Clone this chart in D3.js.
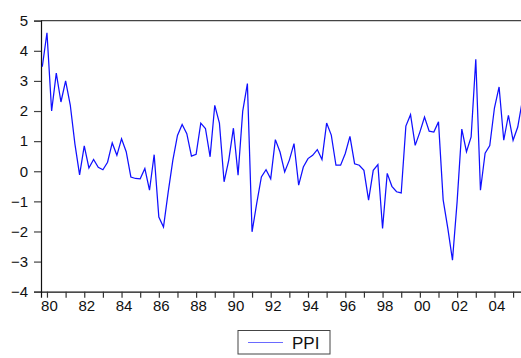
<!DOCTYPE html>
<html>
<head>
<meta charset="utf-8">
<script src="https://cdn.jsdelivr.net/npm/d3@7"></script>
<style>
  html, body { margin: 0; padding: 0; background: #fff; }
  svg { display: block; }
  text { font-family: "Liberation Sans", Arial, sans-serif; }
</style>
</head>
<body>
<svg id="chart" width="521" height="358"></svg>
<script>
// Quarterly PPI series, first observation 1979Q4
const startYear = 1979;
const startQuarter = 4;
const seriesName = "PPI";
const ppi = [
  3.47, 4.6, 2.0, 3.26, 2.3, 3.0, 2.2, 0.9, -0.12, 0.84,
  0.11, 0.39, 0.13, 0.05, 0.3, 0.94, 0.53, 1.08, 0.65, -0.19,
  -0.24, -0.25, 0.09, -0.63, 0.55, -1.52, -1.85, -0.7, 0.36, 1.19,
  1.55, 1.25, 0.5, 0.56, 1.6, 1.42, 0.48, 2.19, 1.6, -0.35,
  0.37, 1.43, -0.13, 2.0, 2.91, -2.01, -1.07, -0.19, 0.05, -0.25,
  1.05, 0.64, -0.02, 0.37, 0.92, -0.46, 0.14, 0.42, 0.53, 0.72,
  0.39, 1.6, 1.2, 0.2, 0.2, 0.59, 1.16, 0.25, 0.2, 0.03,
  -0.96, 0.03, 0.22, -1.9, -0.07, -0.5, -0.68, -0.72, 1.5, 1.88,
  0.86, 1.3, 1.8, 1.33, 1.3, 1.64, -0.95, -1.9, -2.95, -1.0,
  1.4, 0.65, 1.14, 3.72, -0.63, 0.6, 0.85, 2.1, 2.8, 1.03,
  1.86, 1.03, 1.47, 2.35
];
const yTicks = [5, 4, 3, 2, 1, 0, -1, -2, -3, -4];
const xTickYears = d3.range(1980, 2006);
const xTickLabels = ["80", "82", "84", "86", "88", "90", "92", "94", "96", "98", "00", "02", "04"];

const svg = d3.select("#chart");
const plot = { left: 41, top: 20.7, right: 522.4, bottom: 291.7 };

// time position of each observation (year + fraction of year)
const t0 = startYear + (startQuarter - 1) / 4;
const data = ppi.map((v, i) => ({ t: t0 + i / 4, v }));

const x = d3.scaleLinear()
  .domain([1979.68, 2005.5])
  .range([plot.left, plot.right]);
const y = d3.scaleLinear()
  .domain([-4, 5])
  .range([plot.bottom, plot.top]);

// top frame line
svg.append("line")
  .attr("x1", plot.left).attr("x2", plot.right)
  .attr("y1", plot.top).attr("y2", plot.top)
  .attr("stroke", "#444").attr("stroke-width", 1.2);

// y axis
const yAxis = svg.append("g")
  .attr("transform", `translate(${plot.left},0)`)
  .call(d3.axisLeft(y).tickValues(yTicks).tickSize(7).tickPadding(6).tickFormat(d3.format("d")));
yAxis.select(".domain").attr("stroke", "#111").attr("stroke-width", 1.2);
yAxis.selectAll(".tick line").attr("stroke", "#444").attr("stroke-width", 1.2);
yAxis.selectAll("text").attr("font-size", 15).attr("fill", "#111");

// x axis: a tick each year, labels on even years
const labelFor = {};
xTickLabels.forEach(s => {
  const yr = +s < 50 ? 2000 + +s : 1900 + +s;
  labelFor[yr] = s;
});
const xAxis = svg.append("g")
  .attr("transform", `translate(0,${plot.bottom})`)
  .call(d3.axisBottom(x).tickValues(xTickYears).tickSize(6).tickPadding(3)
    .tickFormat(d => labelFor[d] || ""));
xAxis.select(".domain").attr("stroke", "#111").attr("stroke-width", 1.2);
xAxis.selectAll(".tick line").attr("stroke", "#333").attr("stroke-width", 1.2);
xAxis.selectAll("text").attr("font-size", 15).attr("fill", "#111").attr("dx", "2");

// series line
const line = d3.line().x(d => x(d.t)).y(d => y(d.v));
svg.append("path")
  .datum(data)
  .attr("fill", "none")
  .attr("stroke", "#1010ff")
  .attr("stroke-width", 1.25)
  .attr("stroke-linejoin", "miter")
  .attr("d", line);

// legend
const lg = svg.append("g").attr("transform", "translate(238,330.5)");
lg.append("rect")
  .attr("width", 92).attr("height", 23.5)
  .attr("fill", "#fff").attr("stroke", "#444").attr("stroke-width", 1);
lg.append("line")
  .attr("x1", 10).attr("x2", 45).attr("y1", 12).attr("y2", 12)
  .attr("stroke", "#6a6aff").attr("stroke-width", 1.2);
lg.append("text")
  .attr("x", 54).attr("y", 18)
  .attr("font-size", 17).attr("fill", "#111")
  .text(seriesName);
</script>
</body>
</html>
